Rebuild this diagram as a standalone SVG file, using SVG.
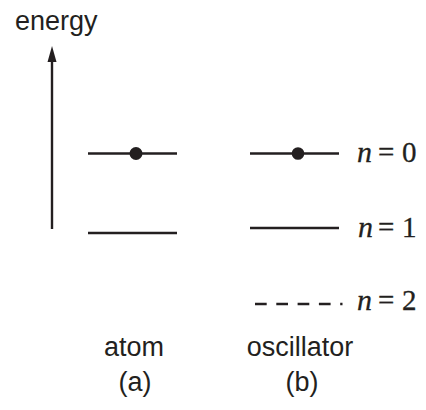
<svg xmlns="http://www.w3.org/2000/svg" width="426" height="410" viewBox="0 0 426 410">
<defs>
<style>
.lvl{stroke:#231f20;stroke-width:2.4;fill:none}
.dot{fill:#231f20}
.sans{font-family:"Liberation Sans",Arial,sans-serif;font-size:27px;fill:#231f20}
.math{font-family:"Liberation Serif","Times New Roman",serif;font-size:29px;fill:#231f20;stroke:#231f20;stroke-width:0.3}
.it{font-style:italic;font-size:30px}
</style>
</defs>
<rect width="426" height="410" fill="#ffffff"/>
<g id="axis">
<text class="sans" x="15" y="30">energy</text>
<line x1="52" y1="229" x2="52" y2="62" stroke="#231f20" stroke-width="2.4"/>
<path d="M52,46 L56.5,62 L47.5,62 Z" fill="#231f20"/>
</g>
<g id="atom">
<line class="lvl" x1="88" y1="153.5" x2="177" y2="153.5"/>
<circle class="dot" cx="136" cy="153.5" r="6.5"/>
<line class="lvl" x1="88" y1="233" x2="177" y2="233"/>
<text class="sans" x="134" y="356" text-anchor="middle">atom</text>
<text class="sans" x="135" y="391" text-anchor="middle">(a)</text>
</g>
<g id="oscillator">
<line class="lvl" x1="250" y1="153.5" x2="339" y2="153.5"/>
<circle class="dot" cx="298" cy="153.5" r="6.3"/>
<line class="lvl" x1="250" y1="228" x2="339" y2="228"/>
<line class="lvl" x1="255" y1="304" x2="342.5" y2="304" stroke-dasharray="11.7 9.6"/>
<text class="sans" x="300" y="356" text-anchor="middle">oscillator</text>
<text class="sans" x="302" y="391" text-anchor="middle">(b)</text>
</g>
<g id="labels">
<text class="math" y="162"><tspan class="it" x="357">n</tspan><tspan x="378">=</tspan><tspan x="402">0</tspan></text>
<text class="math" y="237"><tspan class="it" x="358">n</tspan><tspan x="378">=</tspan><tspan x="402">1</tspan></text>
<text class="math" y="310"><tspan class="it" x="357">n</tspan><tspan x="378">=</tspan><tspan x="402">2</tspan></text>
</g>
</svg>
